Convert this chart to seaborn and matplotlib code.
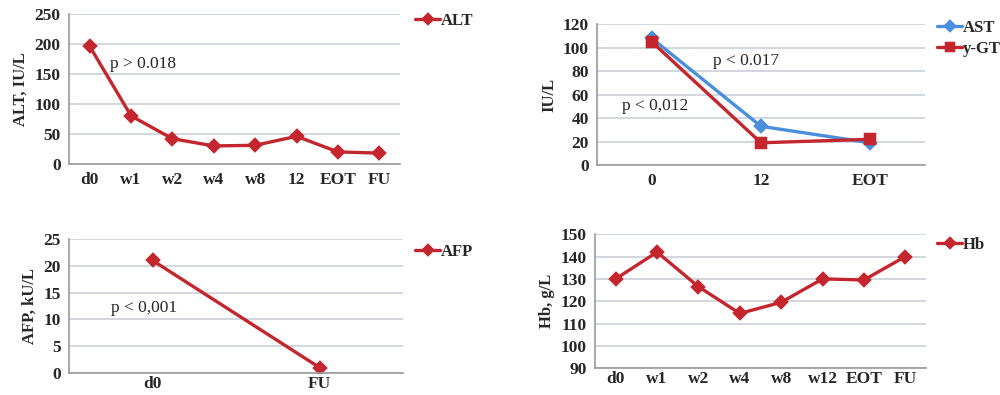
import matplotlib
matplotlib.use("Agg")
import matplotlib.pyplot as plt
import seaborn as sns
import pandas as pd

# data
alt_cats = ["d0", "w1", "w2", "w4", "w8", "12", "EOT", "FU"]
alt_vals = [196, 80, 42, 30, 31, 46, 20, 18]

ast_cats = ["0", "12", "EOT"]
ast_vals = [108, 33, 19]
ygt_vals = [105, 19, 22]

afp_cats = ["d0", "FU"]
afp_vals = [21, 1]

hb_cats = ["d0", "w1", "w2", "w4", "w8", "w12", "EOT", "FU"]
hb_vals = [130, 142, 126.5, 114.5, 119.5, 130, 129.5, 140]

RED = "#C4262E"
BLUE = "#4A8FDB"
GRID = "#C9D1D9"

sns.set_style("white")
plt.rcParams["font.family"] = ["Liberation Serif", "DejaVu Serif"]
plt.rcParams["font.weight"] = "bold"

fig = plt.figure(figsize=(10, 3.95), dpi=100)


def style_ax(ax, ylim, yticks, ylabel, xpad=6):
    ax.set_ylim(*ylim)
    ax.set_yticks(yticks)
    ax.yaxis.grid(True, color=GRID, linewidth=1.2)
    ax.xaxis.grid(False)
    for s in ["top", "right"]:
        ax.spines[s].set_visible(False)
    for s in ["left", "bottom"]:
        ax.spines[s].set_color("#9A9A9A")
        ax.spines[s].set_linewidth(1.2)
    ax.tick_params(axis="y", length=0, labelsize=12.5, pad=6)
    ax.tick_params(axis="x", length=0, labelsize=12.5, pad=xpad)
    ax.set_xlabel("")
    ax.set_ylabel(ylabel, fontsize=12, fontweight="bold", labelpad=4)


def draw(ax, cats, vals, color, marker, label, msize=6):
    df = pd.DataFrame({"x": cats, "y": vals})
    sns.pointplot(data=df, x="x", y="y", color=color, markers=marker,
                  linewidth=2.4, markersize=msize, ax=ax, label=label)


def add_legend(ax, x, y):
    ax.legend(loc="upper left", bbox_to_anchor=(x, y),
              bbox_transform=fig.transFigure, frameon=False,
              borderaxespad=0, borderpad=0, handlelength=1.5,
              handletextpad=0.05, fontsize=12, markerscale=0.8,
              labelspacing=0.3)


# ALT
ax1 = fig.add_axes([0.069, 0.585, 0.331, 0.380])
draw(ax1, alt_cats, alt_vals, RED, "D", "ALT")
ax1.set_xlim(-0.5, len(alt_cats) - 0.5)
style_ax(ax1, (0, 250), range(0, 251, 50), "ALT, IU/L")
ax1.text(0.49, 167, "p > 0.018", fontsize=12.5, fontweight="normal",
         va="center")
add_legend(ax1, 0.415, 0.968)

# AST / y-GT
ax2 = fig.add_axes([0.597, 0.582, 0.328, 0.357])
draw(ax2, ast_cats, ast_vals, BLUE, "D", "AST")
draw(ax2, ast_cats, ygt_vals, RED, "s", "y-GT", msize=7)
ax2.set_xlim(-0.5, len(ast_cats) - 0.5)
style_ax(ax2, (0, 120), range(0, 121, 20), "IU/L")
ax2.text(0.56, 89, "p < 0.017", fontsize=12.5, fontweight="normal",
         va="center")
ax2.text(-0.27, 50, "p < 0,012", fontsize=12.5, fontweight="normal",
         va="center")
add_legend(ax2, 0.937, 0.95)

# AFP
ax3 = fig.add_axes([0.069, 0.056, 0.334, 0.339])
draw(ax3, afp_cats, afp_vals, RED, "D", "AFP")
ax3.set_xlim(-0.5, len(afp_cats) - 0.5)
style_ax(ax3, (0, 25), range(0, 26, 5), "AFP, kU/L", xpad=2)
ax3.text(-0.25, 12.1, "p < 0,001", fontsize=12.5, fontweight="normal",
         va="center")
add_legend(ax3, 0.415, 0.383)

# Hb
ax4 = fig.add_axes([0.595, 0.068, 0.331, 0.339])
draw(ax4, hb_cats, hb_vals, RED, "D", "Hb")
ax4.set_xlim(-0.5, len(hb_cats) - 0.5)
style_ax(ax4, (90, 150), range(90, 151, 10), "Hb, g/L", xpad=2)
add_legend(ax4, 0.937, 0.40)

fig.savefig("out.png", dpi=100)
